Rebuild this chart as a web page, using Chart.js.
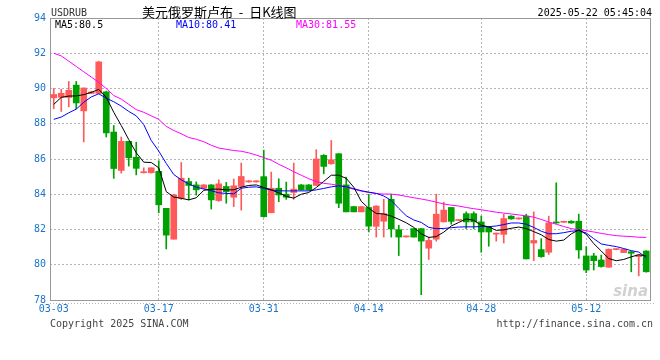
<!DOCTYPE html>
<html>
<head>
<meta charset="utf-8">
<script src="https://cdn.jsdelivr.net/npm/chart.js@4.4.1/dist/chart.umd.min.js"></script>
<style>
  html, body { margin: 0; padding: 0; background: #fff; }
  #wrap { width: 660px; height: 360px; position: relative; }
</style>
</head>
<body>
<div id="wrap"><canvas id="kline"></canvas></div>
<script>
// daily candles 03-03 .. 05-22
const openPrices = [
  89.47, 89.5, 89.49, 90.19, 88.73, 89.72, 89.72, 89.81, 87.53, 85.35,
  87.0, 86.1, 85.22, 85.22, 85.3, 83.2, 81.45, 83.77, 84.72, 84.53,
  84.34, 84.53, 83.64, 84.44, 83.83, 84.44, 84.7, 84.7, 85.0, 82.95,
  84.34, 84.0, 84.1, 84.53, 84.53, 84.5, 86.21, 85.73, 86.3, 84.53,
  83.3, 83.0, 83.25, 82.18, 82.47, 83.71, 81.99, 81.58, 82.05, 82.05,
  80.94, 81.45, 82.43, 83.25, 82.51, 82.9, 82.9, 82.43, 82.16, 81.74,
  81.72, 82.76, 82.6, 82.76, 81.23, 80.86, 80.71, 82.43, 82.41, 82.47,
  82.47, 80.5, 80.5, 80.27, 79.86, 80.86, 80.69, 80.74, 80.46, 80.78
];
const highPrices = [
  90.0, 89.95, 90.4, 90.4, 90.03, 89.85, 91.55, 89.85, 87.9, 87.25,
  87.0, 86.95, 85.5, 85.5, 85.9, 83.2, 84.0, 85.8, 84.91, 84.7,
  84.55, 84.55, 84.82, 84.67, 84.86, 85.77, 84.78, 84.78, 86.5, 85.26,
  84.88, 84.69, 85.77, 84.55, 84.55, 86.53, 86.25, 87.05, 86.3, 84.97,
  83.32, 83.3, 84.0, 83.35, 83.71, 84.0, 82.24, 81.64, 82.05, 82.05,
  81.57, 84.0, 83.55, 83.25, 82.56, 83.0, 83.0, 82.76, 82.18, 81.8,
  82.87, 82.78, 82.66, 82.87, 83.0, 81.48, 82.76, 84.65, 82.47, 82.5,
  82.87, 81.03, 80.65, 80.55, 80.9, 80.92, 80.9, 80.76, 80.57, 80.8
];
const lowPrices = [
  88.85, 88.7, 88.96, 88.85, 86.97, 89.7, 89.7, 87.25, 84.9, 85.2,
  85.6, 85.1, 85.2, 85.2, 82.95, 80.9, 81.45, 83.7, 83.68, 83.95,
  84.3, 83.16, 83.6, 83.49, 83.3, 83.1, 84.68, 84.68, 82.7, 82.95,
  83.58, 83.71, 83.71, 84.23, 84.23, 84.5, 85.16, 85.7, 83.24, 83.0,
  83.0, 83.0, 81.86, 81.57, 81.57, 81.57, 80.52, 81.56, 81.57, 78.3,
  80.3, 81.34, 82.43, 82.3, 82.5, 82.05, 82.05, 80.71, 81.05, 81.34,
  81.23, 82.58, 82.58, 80.33, 80.23, 80.42, 80.58, 82.35, 82.39, 82.35,
  80.36, 79.55, 79.7, 79.86, 79.86, 80.84, 80.69, 79.6, 79.37, 79.58
];
const closePrices = [
  89.66, 89.73, 89.9, 89.18, 90.03, 89.8, 91.51, 87.48, 85.46, 87.0,
  86.07, 85.47, 85.28, 85.5, 83.4, 81.68, 83.96, 84.91, 84.5, 84.25,
  84.53, 83.68, 84.59, 84.15, 84.48, 85.01, 84.76, 84.76, 82.73, 84.34,
  83.96, 83.83, 84.29, 84.25, 84.25, 86.0, 85.58, 85.96, 83.49, 83.0,
  83.0, 83.3, 82.19, 83.33, 82.9, 82.03, 81.57, 81.62, 81.57, 81.34,
  81.38, 82.87, 83.1, 82.46, 82.55, 82.43, 82.43, 81.86, 81.86, 81.78,
  82.62, 82.6, 82.64, 80.33, 81.38, 80.46, 82.37, 82.37, 82.45, 82.37,
  80.84, 79.7, 80.23, 79.9, 80.88, 80.9, 80.88, 80.65, 80.55, 79.6
];

const ma5 = [
  89.1, 89.5, 89.57, 89.58, 89.65, 89.78, 89.95, 89.5, 88.65, 87.9,
  87.1, 86.35, 85.82, 85.8, 85.5, 84.15, 83.84, 83.77, 83.68, 83.8,
  84.22, 84.29, 84.29, 84.25, 84.25, 84.4, 84.5, 84.53, 84.38, 84.25,
  84.08, 83.88, 83.78, 84.0, 84.1, 84.38, 84.73, 85.08, 85.08, 84.9,
  84.4, 83.6, 83.2, 82.91, 82.88, 82.76, 82.58, 82.38, 82.12, 81.75,
  81.55, 81.6, 81.85, 82.2, 82.4, 82.6, 82.52, 82.24, 82.15, 81.95,
  81.98, 82.07, 82.14, 82.05, 81.88, 81.7, 81.43, 81.34, 81.4, 81.75,
  81.98, 81.73, 81.2, 80.78, 80.35, 80.23, 80.3, 80.45, 80.57, 80.5
];
const ma10 = [
  88.25, 88.38, 88.62, 88.83, 89.22, 89.52, 89.7, 89.45, 89.25, 89.0,
  88.7, 88.45, 87.95, 87.05, 86.45, 85.75, 85.12, 84.82, 84.58, 84.4,
  84.3, 84.2, 84.08, 84.05, 84.02, 84.34, 84.4, 84.42, 84.33, 84.24,
  84.2, 84.19, 84.19, 84.19, 84.19, 84.25, 84.33, 84.42, 84.48, 84.42,
  84.32, 84.2, 84.12, 84.05, 83.9, 83.65, 83.2, 82.78, 82.54, 82.4,
  82.12, 82.05, 82.06, 82.1, 82.14, 82.15, 82.15, 82.17, 82.16, 82.2,
  82.28, 82.37, 82.37, 82.3, 82.12, 81.9, 81.76, 81.76, 81.82, 81.9,
  81.94, 81.8, 81.48, 81.18, 81.1, 81.03, 80.92, 80.8, 80.72, 80.41
];
const ma30 = [
  92.0, 91.85, 91.55, 91.25, 90.95, 90.65, 90.35, 90.0, 89.6, 89.4,
  89.1, 88.8, 88.65, 88.45, 88.25, 87.85, 87.62, 87.43, 87.22, 87.12,
  86.98, 86.78, 86.62, 86.55, 86.48, 86.44, 86.35, 86.22, 86.08, 85.93,
  85.7, 85.5, 85.28, 85.08, 84.88, 84.72, 84.62, 84.57, 84.5, 84.4,
  84.28, 84.18, 84.1, 84.04, 84.01, 84.01, 83.96, 83.88, 83.8, 83.73,
  83.65, 83.55, 83.45, 83.38, 83.33, 83.25, 83.18, 83.12, 83.05, 82.98,
  82.93, 82.88, 82.83, 82.77, 82.7, 82.57, 82.42, 82.3, 82.17, 82.05,
  81.99, 81.93, 81.86, 81.78, 81.71, 81.65, 81.62, 81.6, 81.56, 81.55
];

const tickIndex = [0, 14, 28, 42, 57, 71];
const tickLabels = ["03-03", "03-17", "03-31", "04-14", "04-28", "05-12"];
const yTicks = [78, 80, 82, 84, 86, 88, 90, 92, 94];

const RED = "#ff5a5a";
const GREEN = "#00a000";
const BLUE_TEXT = "#1a75c9";
const GRID = "#b4b4b4";
const MONO = '"DejaVu Sans Mono", monospace';

function candleColors() {
  return openPrices.map((o, i) => (closePrices[i] >= o ? RED : GREEN));
}

function maLine(label, values, color) {
  return {
    type: "line",
    label: label,
    data: values.map((v, i) => ({ x: i, y: v })),
    borderColor: color,
    borderWidth: 1,
    pointRadius: 0,
    tension: 0,
    fill: false,
  };
}

function buildDatasets() {
  const colors = candleColors();
  return [
    maLine("MA5", ma5, "#000000"),
    maLine("MA10", ma10, "#0000ff"),
    maLine("MA30", ma30, "#ff00ff"),
    {
      type: "bar",
      label: "body",
      data: openPrices.map((o, i) => ({ x: i, y: [o, closePrices[i]] })),
      backgroundColor: colors,
      barThickness: 6,
      minBarLength: 1,
      grouped: false,
    },
    {
      type: "bar",
      label: "wick",
      data: lowPrices.map((l, i) => ({ x: i, y: [l, highPrices[i]] })),
      backgroundColor: colors,
      barThickness: 1,
      grouped: false,
    },
  ];
}

// frame, header, legend texts and footer
const decorations = {
  id: "decorations",
  beforeDatasetsDraw(chart) {
    const { ctx, chartArea } = chart;
    ctx.save();
    ctx.strokeStyle = "#999";
    ctx.lineWidth = 1;
    ctx.strokeRect(chartArea.left + 0.5, chartArea.top + 0.5,
      chartArea.right - chartArea.left, chartArea.bottom - chartArea.top);
    ctx.strokeStyle = GRID;
    ctx.setLineDash([1, 2]);
    ctx.beginPath();
    ctx.moveTo(chartArea.left, chartArea.bottom + 3.5);
    ctx.lineTo(655, chartArea.bottom + 3.5);
    ctx.stroke();
    ctx.restore();
  },
  afterDraw(chart) {
    const { ctx, chartArea } = chart;
    ctx.save();
    ctx.textBaseline = "middle";

    ctx.font = "10px " + MONO;
    ctx.fillStyle = "#333";
    ctx.textAlign = "left";
    ctx.fillText("USDRUB", 51, 13);

    ctx.font = '13px "Noto Sans CJK SC"';
    ctx.fillStyle = "#000";
    ctx.fillText("美元俄罗斯卢布  -  日K线图", 142, 12);

    ctx.font = "10px " + MONO;
    ctx.textAlign = "right";
    ctx.fillText("2025-05-22 05:45:04", 652, 13);

    ctx.textAlign = "left";
    ctx.fillStyle = "#000";
    ctx.fillText("MA5:" + ma5[ma5.length - 1], 55, 25);
    ctx.fillStyle = "#0000ff";
    ctx.fillText("MA10:" + ma10[ma10.length - 1], 176, 25);
    ctx.fillStyle = "#ff00ff";
    ctx.fillText("MA30:" + ma30[ma30.length - 1], 296, 25);

    ctx.fillStyle = "#444";
    ctx.fillText("Copyright 2025 SINA.COM", 50, 324);
    ctx.textAlign = "right";
    ctx.fillText("http://finance.sina.com.cn", 653, 324);

    ctx.font = 'italic bold 15px "DejaVu Sans"';
    ctx.fillStyle = "rgba(190,190,190,0.7)";
    ctx.fillText("sina", chartArea.right - 2, chartArea.bottom - 8);
    ctx.restore();
  },
};

function drawChart(canvasId) {
  const canvas = document.getElementById(canvasId);
  new Chart(canvas, {
    type: "bar",
    data: { datasets: buildDatasets() },
    options: {
      responsive: true,
      maintainAspectRatio: false,
      animation: false,
      layout: { padding: { top: 18, right: 10, left: 0, bottom: 0 } },
      plugins: { legend: { display: false }, tooltip: { enabled: false } },
      scales: {
        x: {
          type: "linear",
          min: -0.5,
          max: 79.5,
          offset: false,
          afterBuildTicks: (scale) => {
            scale.ticks = tickIndex.map((v) => ({ value: v }));
          },
          afterFit: (scale) => {
            scale.height = 60;
          },
          ticks: {
            autoSkip: false,
            maxRotation: 0,
            padding: 3,
            color: BLUE_TEXT,
            font: { family: MONO, size: 10 },
            callback: (value) => tickLabels[tickIndex.indexOf(value)],
          },
          grid: {
            offset: false,
            drawTicks: false,
            color: (c) => (c.index === 0 ? "rgba(0,0,0,0)" : GRID),
          },
          border: { display: false, dash: [2, 2] },
        },
        y: {
          type: "linear",
          min: 78,
          max: 94,
          afterBuildTicks: (scale) => {
            scale.ticks = yTicks.map((v) => ({ value: v }));
          },
          afterFit: (scale) => {
            scale.width = 50;
          },
          ticks: {
            padding: 4,
            color: BLUE_TEXT,
            font: { family: MONO, size: 10 },
          },
          grid: { drawTicks: false, color: GRID },
          border: { display: false, dash: [2, 2] },
        },
      },
    },
    plugins: [decorations],
  });
}

drawChart("kline");
</script>
</body>
</html>
